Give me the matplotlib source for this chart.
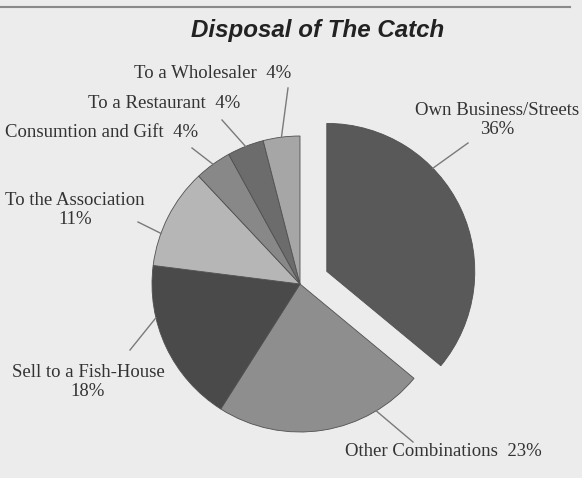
import numpy as np
import matplotlib
matplotlib.use('Agg')
import matplotlib.pyplot as plt

# Data
categories = ['Own Business/Streets', 'Other Combinations', 'Sell to a Fish-House',
              'To the Association', 'Consumtion and Gift', 'To a Restaurant',
              'To a Wholesaler']
shares = [36, 23, 18, 11, 4, 4, 4]
label_texts = ['Own Business/Streets\n36%', 'Other Combinations  23%',
               'Sell to a Fish-House\n18%', 'To the Association\n11%',
               'Consumtion and Gift  4%', 'To a Restaurant  4%',
               'To a Wholesaler  4%']
colors = ['#595959', '#8e8e8e', '#4a4a4a', '#b6b6b6', '#888888', '#6c6c6c', '#a6a6a6']
explode = [0.2, 0, 0, 0, 0, 0, 0]   # fraction of radius

# label placement (figure pixels, y from top), leader line end and angle tweak (deg)
label_pos = [(497, 120), (443, 452), (88, 382), (75, 210), (102, 132), (164, 103), (213, 73)]
line_end = [(468, 143), (413, 442), (130, 350), (138, 222), (192, 148), (222, 120), (288, 88)]
angle_tweak = [19, 22, -12, 7, 0, 0, 0]

W, H = 582, 478
fig = plt.figure(figsize=(W / 100, H / 100), dpi=100)
fig.patch.set_facecolor('#ececec')
ax = fig.add_axes([0, 0, 1, 1])

cx, cy, R = 300, H - 284, 148
wedges, _ = ax.pie(shares, colors=colors, explode=[e * R for e in explode],
                   startangle=90, counterclock=False, radius=R, center=(cx, cy),
                   wedgeprops=dict(edgecolor='#505050', linewidth=0.6))
ax.set_xlim(0, W)
ax.set_ylim(0, H)
ax.set_aspect('equal')
ax.axis('off')

# leader lines + labels
for w, txt, (lx, ly), (ex, ey), ex_f, tw in zip(wedges, label_texts, label_pos,
                                                 line_end, explode, angle_tweak):
    mid = np.deg2rad((w.theta1 + w.theta2) / 2)
    ox, oy = cx + ex_f * R * np.cos(mid), cy + ex_f * R * np.sin(mid)
    a = mid + np.deg2rad(tw)
    sx, sy = ox + R * np.cos(a), oy + R * np.sin(a)
    ax.plot([sx, ex], [sy, H - ey], color='#7a7a7a', lw=1)
    ax.text(lx, H - ly, txt, ha='center', va='center', fontsize=13.5,
            family='Liberation Serif', color='#333333', linespacing=1.1)

ax.text(318, H - 30, 'Disposal of The Catch', ha='center', va='center',
        fontsize=17.4, fontweight='bold', fontstyle='italic', family='Liberation Sans',
        color='#222222')
ax.plot([0, 570], [H - 7, H - 7], color='#8a8a8a', lw=1.5)

fig.savefig('out.png', dpi=100, facecolor=fig.get_facecolor())
